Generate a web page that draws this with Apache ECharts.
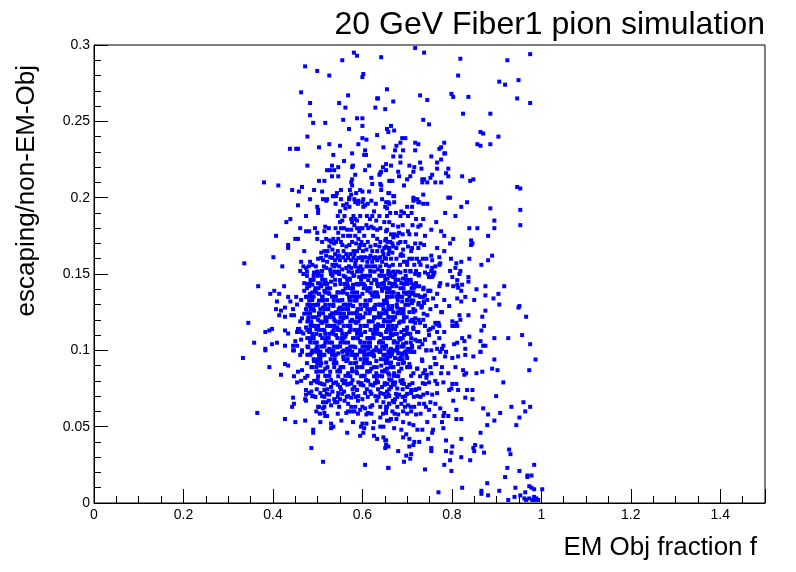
<!DOCTYPE html>
<html>
<head>
<meta charset="utf-8">
<title>20 GeV Fiber1 pion simulation</title>
<script src="https://cdn.jsdelivr.net/npm/echarts@6/dist/echarts.min.js"></script>
</head>
<body style="margin:0;background:#fff">
<div id="chart" style="width:796px;height:572px"></div>
<script>
// [EM fraction f, escaping/non-EM-Obj]
var topLeft = [[0.581,0.295],[0.588,0.293],[0.642,0.292],[0.555,0.290],[0.472,0.286],[0.499,0.283],[0.526,0.280],[0.602,0.281],[0.600,0.279],[0.463,0.269],[0.655,0.271],[0.568,0.267],[0.635,0.265],[0.633,0.265],[0.483,0.262],[0.548,0.262],[0.562,0.259],[0.629,0.259],[0.651,0.258],[0.483,0.254],[0.490,0.249],[0.517,0.249],[0.557,0.251],[0.588,0.252],[0.600,0.252],[0.600,0.247],[0.570,0.245],[0.655,0.245],[0.658,0.243],[0.477,0.240],[0.633,0.241],[0.600,0.239],[0.609,0.238],[0.503,0.233],[0.526,0.235],[0.550,0.234],[0.591,0.235],[0.647,0.233],[0.438,0.232],[0.452,0.232],[0.456,0.232],[0.606,0.231],[0.577,0.229],[0.535,0.228],[0.604,0.228],[0.608,0.228],[0.559,0.224],[0.477,0.221],[0.532,0.221],[0.546,0.220],[0.577,0.220],[0.579,0.221],[0.615,0.221],[0.646,0.220],[0.653,0.222],[0.521,0.218],[0.528,0.218],[0.537,0.218],[0.584,0.215],[0.606,0.218],[0.640,0.216],[0.642,0.217],[0.653,0.218],[0.532,0.214],[0.546,0.214],[0.638,0.215],[0.380,0.210],[0.412,0.208],[0.503,0.211],[0.515,0.211],[0.577,0.212],[0.575,0.210],[0.577,0.208],[0.620,0.213],[0.622,0.209],[0.640,0.209],[0.642,0.208],[0.660,0.211],[0.443,0.205],[0.458,0.204],[0.465,0.207],[0.492,0.205],[0.510,0.204],[0.552,0.205],[0.543,0.203],[0.534,0.201],[0.541,0.201],[0.572,0.205],[0.575,0.202],[0.586,0.203],[0.595,0.205],[0.600,0.204],[0.615,0.204],[0.642,0.205],[0.658,0.203],[0.483,0.199],[0.512,0.199],[0.521,0.199],[0.552,0.199],[0.570,0.199],[0.602,0.199],[0.644,0.199]];

var topRight = [[0.718,0.298],[0.738,0.295],[0.819,0.291],[0.975,0.294],[0.924,0.290],[0.814,0.280],[0.906,0.276],[0.919,0.274],[0.949,0.277],[0.729,0.267],[0.745,0.264],[0.799,0.268],[0.803,0.266],[0.837,0.266],[0.669,0.263],[0.946,0.265],[0.975,0.262],[0.825,0.255],[0.886,0.255],[0.736,0.251],[0.749,0.248],[0.664,0.247],[0.671,0.244],[0.864,0.243],[0.870,0.242],[0.904,0.240],[0.689,0.239],[0.696,0.239],[0.685,0.236],[0.676,0.234],[0.673,0.231],[0.669,0.227],[0.685,0.227],[0.691,0.231],[0.718,0.236],[0.725,0.235],[0.718,0.231],[0.783,0.236],[0.772,0.232],[0.776,0.233],[0.785,0.229],[0.783,0.229],[0.776,0.225],[0.754,0.227],[0.857,0.235],[0.864,0.234],[0.886,0.235],[0.664,0.221],[0.685,0.223],[0.705,0.221],[0.716,0.220],[0.729,0.223],[0.732,0.219],[0.767,0.223],[0.767,0.219],[0.792,0.219],[0.787,0.216],[0.792,0.214],[0.680,0.217],[0.714,0.217],[0.682,0.214],[0.662,0.211],[0.667,0.211],[0.693,0.208],[0.700,0.212],[0.707,0.214],[0.734,0.212],[0.734,0.210],[0.738,0.212],[0.745,0.210],[0.752,0.213],[0.756,0.215],[0.763,0.210],[0.776,0.210],[0.823,0.214],[0.841,0.211],[0.848,0.212],[0.946,0.207],[0.953,0.206],[0.660,0.203],[0.671,0.201],[0.714,0.200],[0.723,0.199],[0.736,0.202],[0.792,0.200],[0.796,0.200]];

var midLeft = [[0.336,0.157],[0.367,0.142],[0.345,0.118],[0.358,0.105],[0.383,0.101],[0.401,0.161],[0.407,0.175],[0.421,0.155],[0.430,0.184],[0.439,0.186],[0.434,0.169],[0.434,0.167],[0.456,0.195],[0.474,0.188],[0.461,0.180],[0.450,0.173],[0.456,0.173],[0.470,0.165],[0.425,0.142],[0.394,0.137],[0.403,0.139],[0.414,0.137],[0.409,0.132],[0.407,0.127],[0.427,0.128],[0.434,0.135],[0.439,0.132],[0.452,0.135],[0.445,0.127],[0.454,0.130],[0.414,0.123],[0.418,0.126],[0.427,0.122],[0.441,0.123],[0.447,0.123],[0.383,0.112],[0.392,0.113],[0.398,0.114],[0.427,0.113],[0.434,0.111],[0.398,0.104],[0.409,0.105],[0.427,0.103],[0.445,0.103],[0.450,0.106],[0.459,0.114],[0.463,0.112],[0.454,0.112],[0.445,0.100],
[0.499,0.194],[0.501,0.192],[0.519,0.198],[0.535,0.201],[0.557,0.195],[0.571,0.200],[0.582,0.199],[0.584,0.197],[0.591,0.198],[0.600,0.197],[0.602,0.194],[0.606,0.195],[0.620,0.198],[0.653,0.197],[0.651,0.194],
[0.501,0.190],[0.550,0.191],[0.562,0.193],[0.571,0.194],[0.626,0.191],[0.638,0.188],[0.617,0.186],[0.631,0.185],[0.575,0.186],[0.584,0.186],[0.588,0.185],[0.550,0.184],[0.555,0.185],
[0.577,0.184],[0.582,0.182],[0.595,0.180],[0.609,0.182],[0.613,0.180],[0.620,0.181],[0.633,0.179],[0.653,0.178],[0.649,0.184],[0.517,0.181],[0.494,0.180],[0.515,0.178],[0.481,0.178],[0.474,0.178],[0.499,0.177],[0.559,0.180],[0.566,0.179],[0.575,0.179],[0.546,0.177],[0.593,0.178],
[0.499,0.173],[0.519,0.173],[0.526,0.172],[0.535,0.173],[0.546,0.173],[0.557,0.175],[0.568,0.175],[0.573,0.175],[0.584,0.175],[0.591,0.173],[0.604,0.175],[0.624,0.175],[0.633,0.173],[0.651,0.172],[0.586,0.170],[0.595,0.169],[0.604,0.169],[0.555,0.169],[0.564,0.168],[0.571,0.169],[0.537,0.170],[0.526,0.168],[0.515,0.165],[0.508,0.164],[0.533,0.166],[0.618,0.168],[0.629,0.169],[0.638,0.168],[0.649,0.167],[0.658,0.167],[0.609,0.166],[0.593,0.167],
[0.539,0.163],[0.548,0.162],[0.557,0.161],[0.564,0.163],[0.573,0.163],[0.582,0.163],[0.597,0.161],[0.606,0.161],[0.618,0.162],[0.629,0.161],[0.640,0.161],[0.647,0.163],[0.653,0.160],[0.519,0.162],[0.528,0.161],[0.501,0.160],[0.512,0.159],[0.539,0.159],[0.550,0.159],[0.562,0.159],[0.575,0.159],[0.586,0.159],[0.600,0.159],[0.611,0.158],[0.622,0.158],[0.633,0.159],
[0.463,0.158],[0.483,0.158],[0.488,0.156],[0.468,0.155],[0.474,0.154],[0.461,0.152],[0.468,0.150],[0.492,0.151],[0.501,0.150],[0.510,0.152],[0.519,0.154],[0.528,0.153],[0.530,0.150],[0.541,0.151],[0.548,0.150],[0.555,0.153],[0.564,0.154],[0.575,0.154],[0.577,0.151],[0.591,0.154],[0.600,0.153],[0.609,0.155],[0.618,0.152],[0.629,0.155],[0.635,0.153],[0.644,0.152],[0.653,0.156],[0.658,0.150],[0.521,0.158],[0.533,0.156],[0.541,0.156],[0.584,0.157],[0.644,0.158],
[0.486,0.146],[0.488,0.143],[0.481,0.142],[0.501,0.144],[0.508,0.142],[0.519,0.144],[0.530,0.145],[0.539,0.143],[0.550,0.146],[0.562,0.148],[0.571,0.147],[0.582,0.149],[0.593,0.148],[0.604,0.148],[0.613,0.146],[0.620,0.144],[0.631,0.146],[0.638,0.149],[0.647,0.144],[0.656,0.147],[0.568,0.142],[0.579,0.143],[0.591,0.143],[0.606,0.142],[0.635,0.142],[0.653,0.141],[0.470,0.144],
[0.470,0.139],[0.483,0.137],[0.474,0.135],[0.494,0.139],[0.503,0.137],[0.510,0.135],[0.515,0.139],[0.526,0.137],[0.537,0.135],[0.546,0.138],[0.557,0.139],[0.566,0.137],[0.577,0.138],[0.588,0.135],[0.600,0.137],[0.611,0.139],[0.622,0.136],[0.633,0.137],[0.644,0.139],[0.655,0.135],[0.488,0.133],[0.521,0.133],[0.555,0.133],[0.571,0.133],[0.618,0.133],[0.649,0.132],[0.463,0.133],
[0.474,0.127],[0.483,0.129],[0.492,0.126],[0.501,0.130],[0.512,0.128],[0.524,0.127],[0.535,0.129],[0.541,0.125],[0.550,0.128],[0.562,0.130],[0.568,0.127],[0.579,0.129],[0.588,0.125],[0.597,0.127],[0.606,0.129],[0.617,0.126],[0.626,0.128],[0.638,0.130],[0.647,0.127],[0.658,0.129],[0.470,0.124],[0.503,0.123],[0.528,0.123],[0.559,0.124],[0.595,0.123],[0.640,0.123],
[0.461,0.119],[0.465,0.121],[0.479,0.121],[0.486,0.118],[0.492,0.116],[0.501,0.120],[0.510,0.118],[0.519,0.121],[0.528,0.116],[0.537,0.120],[0.548,0.118],[0.557,0.121],[0.568,0.116],[0.577,0.120],[0.586,0.118],[0.595,0.121],[0.606,0.116],[0.615,0.119],[0.626,0.121],[0.635,0.117],[0.649,0.120],[0.658,0.116],[0.474,0.115],[0.544,0.115],[0.629,0.115],
[0.456,0.114],[0.468,0.111],[0.481,0.112],[0.490,0.109],[0.497,0.114],[0.506,0.110],[0.515,0.113],[0.524,0.108],[0.533,0.112],[0.541,0.110],[0.553,0.113],[0.562,0.109],[0.571,0.112],[0.579,0.108],[0.588,0.113],[0.597,0.110],[0.606,0.112],[0.615,0.108],[0.624,0.111],[0.633,0.114],[0.642,0.110],[0.653,0.112],[0.463,0.107],[0.483,0.106],[0.519,0.106],[0.555,0.106],[0.595,0.106],[0.640,0.106],
[0.454,0.103],[0.465,0.100],[0.479,0.102],[0.488,0.099],[0.497,0.101],[0.506,0.099],[0.515,0.103],[0.526,0.101],[0.535,0.098],[0.544,0.102],[0.555,0.099],[0.566,0.101],[0.577,0.099],[0.584,0.102],[0.595,0.100],[0.604,0.099],[0.613,0.101],[0.622,0.099],[0.631,0.102],[0.640,0.099],[0.649,0.101],[0.660,0.100]];

var midRight = [[0.834,0.197],[0.821,0.194],[0.886,0.193],[0.953,0.192],[0.785,0.190],[0.808,0.188],[0.895,0.185],[0.895,0.180],[0.953,0.182],[0.765,0.184],[0.754,0.179],[0.839,0.180],[0.857,0.180],[0.776,0.178],[0.783,0.175],[0.881,0.175],[0.803,0.173],[0.843,0.172],[0.846,0.170],[0.843,0.169],[0.796,0.170],[0.767,0.167],[0.783,0.165],[0.890,0.162],[0.881,0.159],[0.866,0.156],[0.839,0.160],[0.821,0.158],[0.798,0.160],[0.810,0.157],[0.808,0.154],[0.819,0.152],[0.817,0.150],[0.796,0.152],[0.801,0.148],[0.812,0.146],[0.837,0.148],[0.837,0.145],[0.772,0.161],[0.772,0.156],[0.774,0.157],[0.763,0.155],[0.756,0.154],[0.761,0.151],[0.749,0.148],[0.790,0.143],[0.774,0.144],[0.772,0.142],[0.803,0.142],[0.814,0.141],[0.823,0.143],[0.812,0.143],[0.917,0.142],[0.875,0.142],[0.855,0.140],[0.875,0.136],[0.904,0.137],[0.893,0.134],[0.906,0.130],[0.821,0.139],[0.812,0.134],[0.821,0.132],[0.830,0.135],[0.850,0.133],[0.783,0.133],[0.767,0.137],[0.749,0.139],[0.758,0.134],[0.765,0.129],[0.794,0.129],[0.951,0.129],[0.949,0.128],[0.875,0.126],[0.778,0.125],[0.776,0.125],[0.837,0.123],[0.817,0.123],[0.819,0.120],[0.868,0.122],[0.966,0.122],[0.801,0.119],[0.810,0.118],[0.812,0.116],[0.805,0.116],[0.801,0.116],[0.770,0.118],[0.767,0.117],[0.772,0.116],[0.758,0.115],[0.872,0.116],[0.866,0.113],[0.783,0.112],[0.772,0.108],[0.761,0.105],[0.740,0.107],[0.749,0.110],[0.823,0.108],[0.828,0.106],[0.839,0.109],[0.812,0.105],[0.805,0.104],[0.864,0.106],[0.895,0.108],[0.926,0.108],[0.957,0.110],[0.975,0.104],[0.870,0.103],[0.875,0.103],[0.864,0.099],[0.830,0.101],[0.787,0.099],[0.778,0.101],[0.781,0.103],[0.767,0.101],[0.754,0.100],[0.743,0.100],
[0.669,0.201],[0.671,0.197],[0.658,0.197],[0.655,0.193],[0.687,0.191],[0.685,0.188],[0.700,0.194],[0.714,0.198],[0.711,0.194],[0.725,0.197],[0.736,0.196],[0.745,0.196],[0.718,0.199],[0.727,0.197],[0.702,0.188],[0.720,0.186],[0.736,0.186],
[0.660,0.184],[0.680,0.181],[0.655,0.179],[0.664,0.176],[0.702,0.178],[0.725,0.181],[0.682,0.177],[0.740,0.175],[0.653,0.173],[0.662,0.171],[0.669,0.174],[0.678,0.175],
[0.653,0.168],[0.660,0.167],[0.669,0.168],[0.676,0.167],[0.685,0.171],[0.696,0.171],[0.702,0.168],[0.709,0.165],[0.711,0.167],[0.725,0.167],[0.738,0.169],[0.687,0.163],[0.691,0.166],[0.658,0.163],[0.667,0.164],
[0.685,0.162],[0.691,0.162],[0.705,0.160],[0.693,0.158],[0.700,0.158],[0.743,0.160],[0.754,0.162],[0.756,0.159],[0.727,0.158],[0.745,0.155],[0.707,0.152],[0.696,0.152],[0.685,0.151],[0.673,0.150],[0.662,0.151],[0.653,0.156],[0.658,0.152],[0.720,0.152],[0.727,0.150],[0.747,0.150],[0.754,0.152],[0.758,0.149],[0.669,0.148],[0.691,0.147],
[0.660,0.144],[0.667,0.142],[0.676,0.142],[0.687,0.144],[0.698,0.145],[0.709,0.144],[0.720,0.144],[0.727,0.142],[0.716,0.141],[0.736,0.140],[0.747,0.139],[0.658,0.139],[0.667,0.138],[0.680,0.137],[0.698,0.137],[0.714,0.138],[0.725,0.136],[0.736,0.135],[0.689,0.135],[0.678,0.135],[0.660,0.135],
[0.655,0.131],[0.667,0.129],[0.678,0.128],[0.689,0.132],[0.700,0.133],[0.711,0.131],[0.725,0.130],[0.738,0.131],[0.745,0.133],[0.732,0.128],[0.718,0.126],[0.705,0.125],[0.691,0.126],[0.680,0.125],[0.669,0.125],[0.653,0.126],[0.752,0.127],[0.745,0.123],
[0.658,0.122],[0.669,0.120],[0.682,0.118],[0.693,0.121],[0.707,0.119],[0.718,0.121],[0.729,0.118],[0.740,0.116],[0.752,0.114],[0.658,0.116],[0.673,0.114],[0.687,0.112],[0.700,0.115],[0.714,0.114],[0.725,0.112],[0.736,0.120],[0.667,0.110],[0.693,0.110],
[0.658,0.108],[0.671,0.106],[0.685,0.107],[0.698,0.105],[0.709,0.108],[0.723,0.106],[0.734,0.104],[0.653,0.103],[0.664,0.101],[0.678,0.102],[0.691,0.104],[0.702,0.101],[0.711,0.103],[0.680,0.098],[0.696,0.099],[0.714,0.099],[0.660,0.099],[0.727,0.102],
[0.718,0.150],[0.726,0.149],[0.740,0.151],[0.759,0.150],[0.755,0.148],[0.714,0.143],[0.722,0.142],[0.737,0.141],[0.752,0.139],[0.711,0.137],[0.718,0.136],[0.729,0.135],[0.740,0.136],[0.726,0.131],[0.737,0.132],[0.733,0.129],[0.714,0.125],[0.737,0.124],[0.711,0.120],[0.718,0.118],[0.726,0.120],[0.714,0.115],[0.722,0.112],[0.740,0.116],[0.748,0.113],[0.763,0.118],[0.770,0.117],[0.767,0.112],[0.718,0.107],[0.729,0.106],[0.711,0.102],[0.740,0.107],[0.714,0.099],[0.733,0.094],[0.740,0.087],[0.744,0.084],[0.722,0.088],[0.752,0.089],[0.763,0.091]];

var lowLeft = [[0.333,0.095],[0.392,0.089],[0.418,0.084],[0.427,0.091],[0.434,0.090],[0.365,0.059],[0.427,0.055],[0.450,0.053],[0.472,0.054],[0.443,0.063],[0.447,0.065],[0.445,0.069],[0.474,0.067],[0.472,0.068],[0.474,0.071],[0.486,0.073],[0.488,0.070],[0.490,0.048],[0.490,0.046],[0.486,0.036],[0.512,0.027],[0.506,0.053],[0.497,0.060],[0.501,0.063],[0.517,0.057],[0.521,0.057],[0.515,0.059],[0.530,0.052],[0.535,0.050],[0.530,0.049],[0.553,0.054],[0.566,0.046],[0.579,0.053],[0.595,0.044],[0.597,0.050],[0.600,0.052],[0.604,0.049],[0.602,0.046],[0.609,0.052],[0.606,0.025],[0.658,0.023],[0.624,0.049],[0.626,0.044],[0.633,0.042],[0.647,0.043],[0.651,0.041],[0.653,0.038],[0.651,0.036],[0.640,0.050],[0.647,0.050],[0.626,0.053],[0.640,0.056],[0.653,0.059],[0.660,0.054],[0.609,0.058],[0.595,0.061],[0.606,0.062],[0.622,0.064],[0.613,0.059],[0.568,0.065],[0.568,0.060],[0.564,0.059],[0.575,0.060],[0.582,0.060],[0.584,0.063],[0.512,0.066],[0.519,0.066],[0.530,0.064],[0.539,0.066],[0.544,0.066],[0.503,0.063],[0.512,0.062],[0.640,0.063],[0.647,0.066],[0.653,0.063],[0.660,0.065],
[0.383,0.100],[0.447,0.100],[0.461,0.097],[0.465,0.099],[0.486,0.098],[0.497,0.099],[0.506,0.096],[0.515,0.097],[0.526,0.099],[0.537,0.097],[0.546,0.098],[0.557,0.096],[0.566,0.099],[0.577,0.097],[0.584,0.095],[0.595,0.099],[0.604,0.097],[0.615,0.098],[0.626,0.096],[0.638,0.099],[0.647,0.097],[0.656,0.095],[0.492,0.093],[0.501,0.093],[0.519,0.092],[0.541,0.092],[0.564,0.093],[0.586,0.092],[0.609,0.093],[0.631,0.093],[0.653,0.092],
[0.456,0.086],[0.465,0.087],[0.472,0.082],[0.486,0.089],[0.497,0.086],[0.506,0.090],[0.517,0.088],[0.528,0.086],[0.537,0.089],[0.548,0.087],[0.557,0.089],[0.568,0.085],[0.577,0.088],[0.588,0.085],[0.600,0.089],[0.611,0.086],[0.620,0.088],[0.631,0.085],[0.642,0.090],[0.651,0.087],[0.660,0.084],[0.447,0.083],[0.501,0.083],[0.521,0.083],[0.546,0.083],[0.573,0.083],[0.597,0.083],[0.626,0.083],[0.644,0.083],
[0.454,0.079],[0.463,0.080],[0.492,0.080],[0.499,0.079],[0.510,0.078],[0.521,0.080],[0.530,0.076],[0.541,0.079],[0.550,0.076],[0.562,0.080],[0.571,0.078],[0.582,0.076],[0.591,0.079],[0.602,0.077],[0.613,0.080],[0.624,0.077],[0.635,0.079],[0.644,0.076],[0.656,0.078],[0.474,0.074],[0.481,0.072],[0.490,0.070],[0.506,0.072],[0.515,0.074],[0.526,0.071],[0.533,0.073],[0.546,0.072],[0.559,0.073],[0.568,0.070],[0.588,0.074],[0.591,0.070],[0.600,0.068],[0.606,0.072],[0.618,0.073],[0.629,0.070],[0.640,0.072],[0.658,0.071],[0.510,0.070],[0.537,0.068],[0.550,0.068],[0.575,0.069]];

var lowRight = [[0.658,0.099],[0.667,0.099],[0.678,0.100],[0.687,0.098],[0.696,0.099],[0.707,0.099],[0.716,0.099],[0.662,0.096],[0.673,0.095],[0.685,0.095],[0.700,0.095],[0.664,0.092],[0.680,0.091],[0.693,0.092],[0.705,0.091],[0.655,0.088],[0.669,0.089],[0.687,0.088],[0.702,0.089],[0.743,0.100],[0.761,0.095],[0.774,0.099],[0.785,0.096],[0.801,0.095],[0.814,0.096],[0.830,0.097],[0.848,0.096],[0.864,0.099],[0.734,0.093],[0.765,0.091],[0.778,0.089],[0.808,0.089],[0.825,0.087],[0.723,0.088],[0.754,0.085],[0.895,0.094],[0.890,0.088],[0.902,0.087],[0.987,0.094],[0.973,0.087],
[0.658,0.085],[0.671,0.085],[0.680,0.083],[0.660,0.081],[0.673,0.079],[0.685,0.080],[0.693,0.078],[0.664,0.076],[0.678,0.075],[0.700,0.076],[0.709,0.074],[0.714,0.085],[0.729,0.083],[0.736,0.085],[0.743,0.082],[0.740,0.078],[0.749,0.079],[0.763,0.080],[0.767,0.078],[0.776,0.085],[0.792,0.085],[0.781,0.079],[0.794,0.074],[0.810,0.078],[0.814,0.074],[0.828,0.084],[0.832,0.085],[0.801,0.078],[0.799,0.075],[0.834,0.074],[0.846,0.074],[0.855,0.085],[0.868,0.086],[0.915,0.079],[0.718,0.074],[0.727,0.075],[0.655,0.073],
[0.660,0.070],[0.673,0.068],[0.682,0.071],[0.696,0.070],[0.709,0.072],[0.723,0.070],[0.736,0.071],[0.745,0.072],[0.756,0.071],[0.767,0.072],[0.660,0.065],[0.671,0.066],[0.687,0.065],[0.702,0.064],[0.716,0.063],[0.727,0.065],[0.738,0.065],[0.752,0.066],[0.763,0.065],[0.774,0.062],[0.783,0.059],[0.792,0.057],[0.803,0.067],[0.810,0.061],[0.653,0.061],[0.667,0.060],[0.680,0.058],[0.691,0.060],[0.709,0.060],[0.720,0.058],[0.749,0.061],[0.761,0.057],[0.781,0.057],[0.830,0.069],[0.846,0.068],[0.870,0.062],[0.881,0.058],[0.899,0.070],[0.933,0.063],[0.960,0.066],[0.964,0.060],[0.975,0.063],
[0.655,0.054],[0.664,0.055],[0.676,0.055],[0.691,0.053],[0.705,0.052],[0.714,0.051],[0.723,0.048],[0.734,0.048],[0.745,0.053],[0.758,0.048],[0.778,0.053],[0.781,0.049],[0.687,0.048],[0.671,0.049],[0.691,0.043],[0.698,0.045],[0.705,0.042],[0.716,0.040],[0.727,0.040],[0.747,0.042],[0.756,0.046],[0.787,0.041],[0.821,0.042],[0.810,0.055],[0.821,0.055],[0.653,0.041],[0.658,0.037],
[0.864,0.046],[0.879,0.051],[0.895,0.054],[0.908,0.059],[0.951,0.056],[0.944,0.051],[0.680,0.034],[0.698,0.031],[0.709,0.032],[0.707,0.029],[0.693,0.027],[0.705,0.037],[0.714,0.038],[0.754,0.036],[0.754,0.034],[0.787,0.034],[0.801,0.037],[0.799,0.033],[0.821,0.030],[0.796,0.028],[0.783,0.025],[0.799,0.021],[0.848,0.036],[0.852,0.038],[0.850,0.034],[0.866,0.037],[0.872,0.033],[0.841,0.028],[0.928,0.035],[0.931,0.032],[0.658,0.023],[0.740,0.022],[0.924,0.023],[0.951,0.021],[0.984,0.025],[0.919,0.017],[0.969,0.017],[0.978,0.018],[0.969,0.018],[0.879,0.013],[0.823,0.010],[0.770,0.007],[0.866,0.008],[0.866,0.006],[0.881,0.005],[0.906,0.008],[0.942,0.010],[0.940,0.004],[0.973,0.011],[0.978,0.010],[0.984,0.009],[0.964,0.007],[0.962,0.003],[0.973,0.003],[0.984,0.004],[0.989,0.003],[0.993,0.002],[0.966,0.002],[0.980,0.002],[0.987,0.002],[0.926,0.002],[0.953,0.005],[1.002,0.009]];

// the packed core and its fringes, read row by row: one y per row, the x's along it
var rowY = [0.1516,0.1488,0.1462,0.1435,0.1407,0.1379,0.1352,0.1326,0.1298,0.1270,0.1243,0.1217,0.1189,0.1160,0.1134,0.1108,0.1080,0.1051,0.1025,0.0999,0.0971,0.0942,0.0916,0.0890,0.0862,0.0833,
    0.196,0.188,0.180,0.171,0.165,0.1605,0.155,
    0.190,0.182,0.176,0.170,0.160,0.156,
    0.0805,0.0775,0.0745,0.0715,0.067,
    0.0785,0.0695,0.063,0.0585];
var rowX = [
    [0.476,0.499,0.508,0.529,0.538,0.547,0.569,0.588,0.597,0.618,0.627,0.643,0.670,0.679,0.708],
    [0.476,0.491,0.500,0.509,0.533,0.558,0.580,0.600,0.608,0.617,0.641,0.649,0.663,0.672,0.697],
    [0.484,0.491,0.510,0.517,0.539,0.566,0.572,0.597,0.626,0.651,0.674,0.681,0.700,0.708],
    [0.477,0.483,0.506,0.515,0.521,0.551,0.560,0.566,0.588,0.597,0.603,0.633,0.642,0.648,0.667,0.673,0.693,0.700],
    [0.476,0.495,0.502,0.521,0.528,0.562,0.571,0.579,0.603,0.612,0.618,0.644,0.653,0.661,0.685,0.692,0.710],
    [0.488,0.497,0.517,0.524,0.544,0.553,0.558,0.581,0.588,0.618,0.627,0.632,0.655,0.664,0.670,0.693,0.702,0.707],
    [0.477,0.485,0.491,0.511,0.532,0.541,0.570,0.579,0.588,0.594,0.626,0.635,0.667,0.676,0.684,0.705],
    [0.481,0.503,0.512,0.536,0.545,0.550,0.573,0.582,0.587,0.607,0.616,0.648,0.654,0.679,0.700,0.709,0.714],
    [0.477,0.485,0.494,0.499,0.517,0.526,0.535,0.558,0.567,0.573,0.596,0.605,0.610,0.629,0.638,0.646,0.677,0.696,0.703],
    [0.484,0.490,0.506,0.515,0.523,0.547,0.556,0.564,0.589,0.611,0.620,0.628,0.659,0.666,0.685,0.692,0.714],
    [0.477,0.483,0.503,0.512,0.532,0.541,0.550,0.570,0.579,0.587,0.607,0.616,0.637,0.646,0.654,0.678,0.687,0.692],
    [0.480,0.489,0.497,0.517,0.526,0.535,0.551,0.560,0.565,0.588,0.597,0.602,0.626,0.635,0.640,0.659,0.668,0.673,0.693,0.699],
    [0.477,0.485,0.506,0.515,0.520,0.540,0.549,0.554,0.573,0.582,0.591,0.614,0.623,0.648,0.657,0.662,0.685,0.692,0.714],
    [0.484,0.493,0.501,0.521,0.530,0.538,0.558,0.567,0.573,0.596,0.605,0.610,0.629,0.638,0.646,0.667,0.676],
    [0.477,0.483,0.503,0.512,0.536,0.545,0.550,0.573,0.582,0.591,0.595,0.618,0.627,0.632,0.655,0.664,0.693,0.699],
    [0.488,0.497,0.517,0.526,0.535,0.555,0.564,0.588,0.597,0.626,0.635,0.640,0.663,0.672,0.677,0.700,0.707],
    [0.477,0.485,0.491,0.510,0.519,0.524,0.544,0.553,0.558,0.581,0.590,0.611,0.620,0.625,0.648,0.657,0.662,0.682,0.690],
    [0.484,0.493,0.498,0.517,0.526,0.532,0.551,0.560,0.568,0.596,0.605,0.614,0.617,0.637,0.646,0.670,0.679,0.708],
    [0.477,0.499,0.508,0.513,0.536,0.545,0.550,0.573,0.580,0.600,0.608,0.617,0.644,0.653,0.678,0.687,0.692],
    [0.488,0.497,0.501,0.521,0.530,0.535,0.558,0.567,0.572,0.596,0.605,0.626,0.635,0.640,0.667,0.673,0.700,0.707],
    [0.477,0.483,0.503,0.512,0.532,0.541,0.566,0.575,0.584,0.588,0.611,0.620,0.625,0.652,0.661,0.666,0.689,0.698],
    [0.491,0.500,0.506,0.529,0.538,0.558,0.567,0.596,0.605,0.610,0.641,0.649,0.655,0.682,0.690],
    [0.476,0.499,0.508,0.536,0.542,0.573,0.582,0.603,0.612,0.617,0.652,0.661,0.690],
    [0.488,0.497,0.522,0.551,0.557,0.588,0.597,0.626,0.632,0.663,0.669,0.700,0.707],
    [0.503,0.512,0.544,0.550,0.577,0.586,0.611,0.617,0.644,0.650,0.682],
    [0.477,0.517,0.526,0.562,0.568,0.600,0.605,0.633,0.639,0.670,0.676,0.709],
    [0.540,0.565,0.590,0.612,0.630,0.660],
    [0.545,0.560,0.580,0.595,0.610,0.622,0.655],
    [0.525,0.540,0.552,0.588,0.600,0.625,0.640],
    [0.510,0.530,0.541,0.552,0.577,0.598,0.612,0.640,0.656],
    [0.522,0.545,0.558,0.580,0.588,0.601,0.622,0.633,0.645,0.660],
    [0.508,0.533,0.545,0.568,0.580,0.591,0.615,0.625,0.638,0.650],
    [0.480,0.496,0.514,0.537,0.548,0.570,0.584,0.596,0.614,0.622,0.640,0.660],
    [0.662,0.675,0.693,0.710],
    [0.668,0.690,0.712,0.730],
    [0.672,0.690,0.705,0.720],
    [0.667,0.680,0.718,0.730],
    [0.664,0.676,0.712,0.722,0.735],
    [0.668,0.684,0.700,0.716,0.730],
    [0.500,0.530,0.555,0.578,0.608,0.632,0.665,0.690],
    [0.515,0.545,0.566,0.596,0.618,0.650,0.672,0.705],
    [0.498,0.522,0.552,0.578,0.610,0.635,0.660,0.690,0.720],
    [0.520,0.555,0.580,0.620,0.648,0.675,0.700],
    [0.525,0.560,0.590,0.632,0.668,0.695],
    [0.485,0.505,0.535,0.558,0.575,0.598,0.628,0.650,0.668,0.688,0.712,0.735],
    [0.495,0.515,0.545,0.565,0.585,0.612,0.636,0.652,0.678,0.690,0.715,0.730],
    [0.515,0.548,0.575,0.600,0.618,0.655,0.678,0.695,0.708,0.742],
    [0.505,0.545,0.590,0.620,0.646,0.672,0.700,0.730]
];

var yTicks = ['0', '0.05', '0.1', '0.15', '0.2', '0.25', '0.3'];

var points = topLeft.concat(topRight, midLeft, midRight, lowLeft, lowRight);
rowY.forEach(function (y, i) {
    rowX[i].forEach(function (x) { points.push([x, y]); });
});

var font = '"Liberation Sans", Arial, Helvetica, sans-serif';

var chart = echarts.init(document.getElementById('chart'));
chart.setOption({
    animation: false,
    backgroundColor: '#fff',
    grid: { left: 94, right: 31, top: 45, bottom: 69, show: true, borderColor: '#000', borderWidth: 1 },
    xAxis: {
        type: 'value', min: 0, max: 1.5, interval: 0.2,
        axisLine: { onZero: false, lineStyle: { color: '#000', width: 1 } },
        axisTick: { inside: true, length: 14, lineStyle: { color: '#000' } },
        minorTick: { show: true, splitNumber: 4, length: 7, lineStyle: { color: '#000' } },
        splitLine: { show: false },
        axisLabel: { color: '#000', fontFamily: font, fontSize: 14, margin: 5,
            showMaxLabel: false,
            formatter: function (v) { return +v.toFixed(1) + ''; } }
    },
    yAxis: {
        type: 'value', min: 0, max: 0.3, interval: 0.05,
        axisLine: { onZero: false, lineStyle: { color: '#000', width: 1 } },
        axisTick: { inside: true, length: 14, lineStyle: { color: '#000' } },
        minorTick: { show: true, splitNumber: 5, length: 7, lineStyle: { color: '#000' } },
        splitLine: { show: false },
        axisLabel: { color: '#000', fontFamily: font, fontSize: 14, margin: 4,
            formatter: function (v, i) { return yTicks[i]; } }
    },
    graphic: [
        { type: 'text', x: 765, y: 25, style: { text: '20 GeV Fiber1 pion simulation', font: '32px ' + font, fill: '#000', align: 'right', verticalAlign: 'middle' } },
        { type: 'text', x: 757, y: 548, style: { text: 'EM Obj fraction f', font: '26px ' + font, fill: '#000', align: 'right', verticalAlign: 'middle' } },
        { type: 'text', x: 27, y: 65, rotation: Math.PI / 2,
          style: { text: 'escaping/non-EM-Obj', font: '26px ' + font, fill: '#000', align: 'right', verticalAlign: 'middle' } }
    ],
    series: [{
        type: 'scatter',
        data: points,
        symbol: 'rect',
        symbolSize: 4,
        itemStyle: { color: '#0000ff', opacity: 1 },
        large: false
    }]
});
</script>
</body>
</html>
